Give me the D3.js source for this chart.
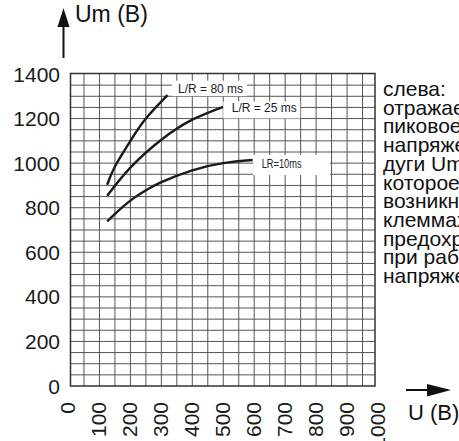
<!DOCTYPE html>
<html>
<head>
<meta charset="utf-8">
<script src="https://cdn.jsdelivr.net/npm/d3@7"></script>
<style>
  html, body { margin: 0; padding: 0; background: #fff; overflow: hidden; }
  svg { display: block; font-family: "Liberation Sans", Arial, sans-serif; }
</style>
</head>
<body>
<svg id="chart" width="459" height="441"></svg>
<script>
// ---- data ----
const xTickValues = [0, 100, 200, 300, 400, 500, 600, 700, 800, 900, 1000];
const yTickValues = [0, 200, 400, 600, 800, 1000, 1200, 1400];
const seriesNames = ["L/R = 80 ms", "L/R = 25 ms", "LR=10ms"];
const uLr80 = [125, 150, 200, 250, 320];
const umLr80 = [903, 985, 1100, 1200, 1305];
const uLr25 = [125, 200, 300, 400, 500];
const umLr25 = [854, 980, 1105, 1195, 1253];
const uLr10 = [125, 150, 200, 250, 300, 400, 500, 595];
const umLr10 = [738, 772, 832, 878, 915, 968, 1000, 1014];
const yAxisTitle = "Um (B)";
const xAxisTitle = "U (B)";
const noteLines = ["слева:", "отражает", "пиковое", "напряжение", "дуги Um,", "которое", "возникнуть на",
                   "клеммах", "предохранителя", "при работе под", "напряжением"];

// ---- layout ----
const svg = d3.select("#chart");
const x = d3.scaleLinear().domain([0, 1000]).range([68.5, 378]);
const y = d3.scaleLinear().domain([0, 1400]).range([386, 74]);
const plot = { left: 70.5, right: 375, top: 73.5, bottom: 386 };

// plot background
svg.append("rect")
  .attr("x", plot.left).attr("y", plot.top)
  .attr("width", plot.right - plot.left).attr("height", plot.bottom - plot.top)
  .attr("fill", "#fff");

// grid
const grid = svg.append("g").attr("stroke", "#555").attr("stroke-width", 1);
grid.selectAll("line.v").data(d3.range(50, 1000, 50)).join("line")
  .attr("class", "v")
  .attr("x1", d => x(d)).attr("x2", d => x(d))
  .attr("y1", plot.top).attr("y2", plot.bottom);
grid.selectAll("line.h").data(d3.range(50, 1400, 50)).join("line")
  .attr("class", "h")
  .attr("x1", plot.left).attr("x2", plot.right)
  .attr("y1", d => y(d)).attr("y2", d => y(d));

// border
svg.append("rect")
  .attr("x", plot.left).attr("y", plot.top)
  .attr("width", plot.right - plot.left).attr("height", plot.bottom - plot.top)
  .attr("fill", "none").attr("stroke", "#333").attr("stroke-width", 1.5);

// curves
const series = [
  { name: seriesNames[0], u: uLr80, um: umLr80 },
  { name: seriesNames[1], u: uLr25, um: umLr25 },
  { name: seriesNames[2], u: uLr10, um: umLr10 }
];
const line = d3.line().x(d => x(d[0])).y(d => y(d[1])).curve(d3.curveNatural);
svg.append("g").selectAll("path").data(series).join("path")
  .attr("d", s => line(s.u.map((v, i) => [v, s.um[i]])))
  .attr("fill", "none").attr("stroke", "#1a1a1a").attr("stroke-width", 2.4)
  .attr("stroke-linecap", "butt");

// curve labels (boxes placed relative to curve end)
const labelLayout = [
  { rx: 4.5, ry: -14.5, rw: 75, rh: 15.5, tx: 10.5, ty: -2, len: null },
  { rx: 0, ry: -5.3, rw: 77, rh: 17, tx: 8.5, ty: 5.6, len: null },
  { rx: 0.5, ry: -5, rw: 77, rh: 20, tx: 9, ty: 7.5, len: 40 }
];
series.forEach((s, i) => {
  const L = labelLayout[i];
  const ex = x(s.u[s.u.length - 1]), ey = y(s.um[s.um.length - 1]);
  svg.append("rect").attr("x", ex + L.rx).attr("y", ey + L.ry)
    .attr("width", L.rw).attr("height", L.rh).attr("fill", "#fff");
  const t = svg.append("text").attr("x", ex + L.tx).attr("y", ey + L.ty)
    .attr("font-size", 12).attr("fill", "#222").text(s.name);
  if (L.len) t.attr("textLength", L.len).attr("lengthAdjust", "spacingAndGlyphs");
});

// y tick labels
svg.append("g").selectAll("text").data(yTickValues).join("text")
  .attr("x", 60).attr("y", d => y(d)).attr("dy", "0.36em")
  .attr("text-anchor", "end").attr("font-size", 21).attr("fill", "#1a1a1a")
  .text(d => d);

// x tick labels (rotated)
svg.append("g").selectAll("text").data(xTickValues).join("text")
  .attr("transform", d => `translate(${x(d) - 1},402) rotate(-90)`)
  .attr("dy", "0.36em")
  .attr("text-anchor", "end").attr("font-size", 21).attr("fill", "#1a1a1a")
  .text(d => d);

// y axis arrow + title
svg.append("line").attr("x1", 63.5).attr("x2", 63.5).attr("y1", 58).attr("y2", 24)
  .attr("stroke", "#111").attr("stroke-width", 2);
svg.append("path").attr("d", "M63.5,8 L57.5,27 L69.5,27 Z").attr("fill", "#111");
svg.append("text").attr("x", 75).attr("y", 22).attr("font-size", 23).attr("fill", "#111").text(yAxisTitle);

// x axis arrow + title
svg.append("line").attr("x1", 406).attr("x2", 430).attr("y1", 390).attr("y2", 390)
  .attr("stroke", "#111").attr("stroke-width", 2);
svg.append("path").attr("d", "M451,390 L427,384 L427,396.5 Z").attr("fill", "#111");
svg.append("text").attr("x", 408).attr("y", 420).attr("font-size", 22).attr("fill", "#111").text(xAxisTitle);

// side note (cut by the right edge, as in the reference)
svg.append("g").selectAll("text").data(noteLines).join("text")
  .attr("x", 383).attr("y", (d, i) => 96 + i * 18.7)
  .attr("font-size", 21).attr("fill", "#111").text(d => d);
</script>
</body>
</html>
